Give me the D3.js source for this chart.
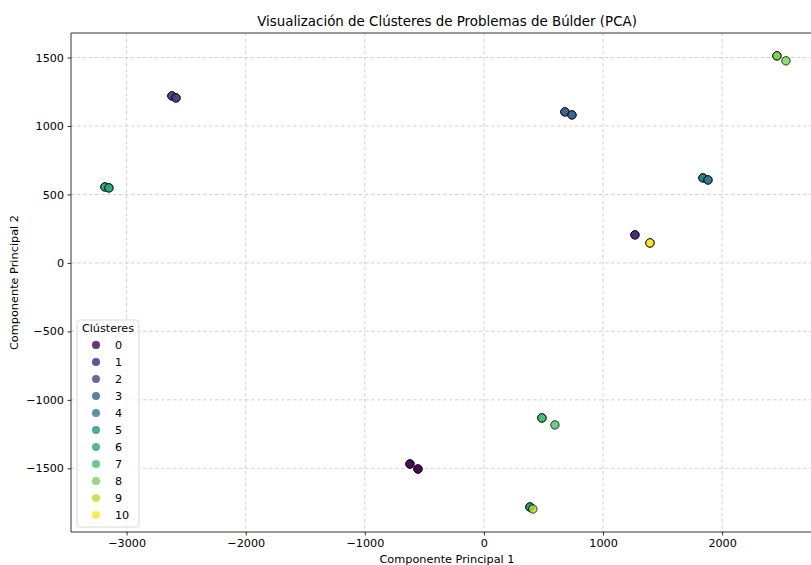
<!DOCTYPE html>
<html>
<head>
<meta charset="utf-8">
<script src="https://cdn.jsdelivr.net/npm/d3@7"></script>
<style>
  body { margin: 0; background: #fff; }
  svg { display: block; font-family: "DejaVu Sans", sans-serif; }
</style>
</head>
<body>
<svg id="chart" width="811" height="565"></svg>
<script>
// ---- data ----
const pcX = [-2620, -2620, -2586, -2586,
             -3182, -3182, -3149, -3149,
             680, 680, 739, 739,
             1839, 1839, 1881, 1881,
             1268, 1268,
             1394, 1394,
             2460, 2460, 2536,
             -621, -621, -554, -554,
             487, 487, 596,
             386, 386, 411];
const pcY = [1220, 1220, 1205, 1205,
             555, 555, 548, 548,
             1103, 1103, 1081, 1081,
             621, 621, 606, 606,
             205, 205,
             146, 146,
             1512, 1512, 1476,
             -1468, -1468, -1505, -1505,
             -1132, -1132, -1183,
             -1782, -1782, -1797];
const clusterOf = [2, 2, 2, 2,
                   6, 6, 6, 6,
                   3, 3, 3, 3,
                   4, 4, 4, 4,
                   1, 1,
                   10, 10,
                   8, 8, 8,
                   0, 0, 0, 0,
                   7, 7, 7,
                   5, 5, 9];
const clusterLabels = ["0","1","2","3","4","5","6","7","8","9","10"];
const xTicks = [-3000, -2000, -1000, 0, 1000, 2000];
const yTicks = [-1500, -1000, -500, 0, 500, 1000, 1500];
const xDomain = [-3467, 2847];
const yDomain = [-1965, 1679];

// ---- layout ----
const svg = d3.select("#chart");
const pL = 71, pT = 33, pR = 823, pB = 532;
const x = d3.scaleLinear().domain(xDomain).range([pL, pR]);
const y = d3.scaleLinear().domain(yDomain).range([pB, pT]);
const color = i => d3.interpolateViridis(i / 10);

svg.append("defs").append("clipPath").attr("id", "clip")
  .append("rect").attr("x", pL).attr("y", pT).attr("width", pR - pL).attr("height", pB - pT);

// grid
const grid = svg.append("g").attr("stroke", "#b0b0b0").attr("stroke-width", 0.8)
  .attr("stroke-dasharray", "3.5,2.5").attr("opacity", 0.7);
grid.selectAll(".gx").data(xTicks).join("line").attr("class", "gx")
  .attr("x1", d => x(d)).attr("x2", d => x(d)).attr("y1", pT).attr("y2", pB);
grid.selectAll(".gy").data(yTicks).join("line").attr("class", "gy")
  .attr("x1", pL).attr("x2", pR).attr("y1", d => y(d)).attr("y2", d => y(d));

// points
const pts = pcX.map((v, i) => ({x: v, y: pcY[i], c: clusterOf[i]}));
svg.append("g").attr("clip-path", "url(#clip)")
  .selectAll("circle").data(pts).join("circle")
  .attr("cx", d => x(d.x)).attr("cy", d => y(d.y)).attr("r", 4.2)
  .attr("fill", d => color(d.c)).attr("stroke", "#000").attr("stroke-width", 1)
  .attr("opacity", 0.8);

// axes
const fmt = d3.format("");
const xAxis = d3.axisBottom(x).tickValues(xTicks).tickSize(3.5).tickPadding(3.5).tickFormat(d => fmt(d));
const yAxis = d3.axisLeft(y).tickValues(yTicks).tickSize(3.5).tickPadding(3.5).tickFormat(d => fmt(d));
const gx = svg.append("g").attr("transform", `translate(0,${pB})`).call(xAxis);
const gy = svg.append("g").attr("transform", `translate(${pL},0)`).call(yAxis);
[gx, gy].forEach(g => {
  g.select(".domain").remove();
  g.selectAll("text").attr("font-size", 11.2).attr("fill", "#000").attr("font-family", "DejaVu Sans, sans-serif");
  g.selectAll("line").attr("stroke", "#000").attr("stroke-width", 0.8);
});

// spines
svg.append("line").attr("x1", pL).attr("x2", pL).attr("y1", pT).attr("y2", pB).attr("stroke", "#000").attr("stroke-width", 0.8);
svg.append("line").attr("x1", pL).attr("x2", pR).attr("y1", pB).attr("y2", pB).attr("stroke", "#000").attr("stroke-width", 0.8);
svg.append("line").attr("x1", pL).attr("x2", pR).attr("y1", pT).attr("y2", pT).attr("stroke", "#000").attr("stroke-width", 0.8);

// title & labels
const cx = (pL + pR) / 2;
svg.append("text").attr("x", cx).attr("y", 26).attr("text-anchor", "middle")
  .attr("font-size", 13.4).text("Visualización de Clústeres de Problemas de Búlder (PCA)");
svg.append("text").attr("x", cx).attr("y", 563).attr("text-anchor", "middle")
  .attr("font-size", 11.3).text("Componente Principal 1");
svg.append("text").attr("transform", `translate(18,${(pT + pB) / 2}) rotate(-90)`)
  .attr("text-anchor", "middle").attr("font-size", 11.3).text("Componente Principal 2");

// legend
const lg = svg.append("g");
lg.append("rect").attr("x", 77).attr("y", 320).attr("width", 62).attr("height", 207)
  .attr("rx", 3).attr("fill", "#fff").attr("fill-opacity", 0.8).attr("stroke", "#d0d0d0").attr("stroke-width", 0.8);
lg.append("text").attr("x", 108).attr("y", 332).attr("text-anchor", "middle").attr("font-size", 11.2).text("Clústeres");
const items = lg.selectAll(".item").data(clusterLabels).join("g").attr("class", "item")
  .attr("transform", (d, i) => `translate(0,${345 + i * 17})`);
items.append("circle").attr("cx", 96).attr("cy", 0).attr("r", 4)
  .attr("fill", (d, i) => color(i)).attr("opacity", 0.8);
items.append("text").attr("x", 115).attr("y", 4).attr("font-size", 11.2).text(d => d);
</script>
</body>
</html>
